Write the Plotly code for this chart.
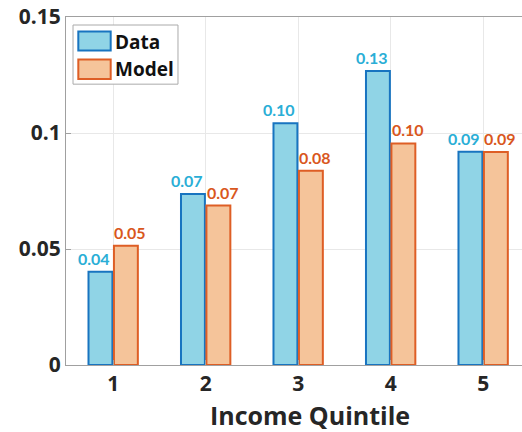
import plotly.graph_objects as go

quintiles = [1, 2, 3, 4, 5]
data_vals = [0.0402, 0.0737, 0.1042, 0.1267, 0.0919]
model_vals = [0.0514, 0.0687, 0.0837, 0.0955, 0.0918]
y_ticks = [0, 0.05, 0.1, 0.15]
y_tick_labels = ["0", "0.05", "0.1", "0.15"]
series_names = ["Data", "Model"]
x_title = "Income Quintile"

FONT = "Open Sans"
LABEL_FONT = "Lato"
DATA_FILL, DATA_EDGE, DATA_TXT = "#90d4e6", "#1874c0", "#2aaed6"
MODEL_FILL, MODEL_EDGE, MODEL_TXT = "#f5c49a", "#de5e25", "#d9571d"

fig = go.Figure()
fig.add_trace(go.Bar(
    x=quintiles, y=data_vals, name=series_names[0],
    marker=dict(color=DATA_FILL, line=dict(color=DATA_EDGE, width=2)),
))
fig.add_trace(go.Bar(
    x=quintiles, y=model_vals, name=series_names[1],
    marker=dict(color=MODEL_FILL, line=dict(color=MODEL_EDGE, width=2)),
))

annotations = []
# value labels above bars (anchored at data coordinates, nudged outward)
for q, v in zip(quintiles, data_vals):
    annotations.append(dict(xref="x", yref="y", x=q, y=v, xshift=-19, yshift=2,
                            xanchor="center", yanchor="bottom", showarrow=False,
                            text="<b>%.2f</b>" % v,
                            font=dict(size=16, color=DATA_TXT, family=LABEL_FONT)))
for q, v in zip(quintiles, model_vals):
    annotations.append(dict(xref="x", yref="y", x=q, y=v, xshift=17, yshift=2,
                            xanchor="center", yanchor="bottom", showarrow=False,
                            text="<b>%.2f</b>" % v,
                            font=dict(size=16, color=MODEL_TXT, family=LABEL_FONT)))

# hand-drawn legend box (paper coordinates of the plot area)
shapes = [
    dict(type="rect", xref="paper", yref="paper", x0=0.0154, x1=0.2456, y0=0.807, y1=0.977,
         fillcolor="white", line=dict(color="#aaaaaa", width=1), layer="above"),
    dict(type="rect", xref="paper", yref="paper", x0=0.027, x1=0.098, y0=0.904, y1=0.958,
         fillcolor=DATA_FILL, line=dict(color=DATA_EDGE, width=2), layer="above"),
    dict(type="rect", xref="paper", yref="paper", x0=0.027, x1=0.098, y0=0.822, y1=0.878,
         fillcolor=MODEL_FILL, line=dict(color=MODEL_EDGE, width=2), layer="above"),
]
annotations += [
    dict(xref="paper", yref="paper", x=0.102, y=0.929, xanchor="left", yanchor="middle",
         text="<b>%s</b>" % series_names[0], showarrow=False,
         font=dict(size=19, color="#111111", family=FONT)),
    dict(xref="paper", yref="paper", x=0.102, y=0.852, xanchor="left", yanchor="middle",
         text="<b>%s</b>" % series_names[1], showarrow=False,
         font=dict(size=19, color="#111111", family=FONT)),
    dict(xref="paper", yref="paper", x=0.535, y=-0.145, xanchor="center", yanchor="middle",
         text="<b>%s</b>" % x_title, showarrow=False,
         font=dict(size=25, color="#262626", family=FONT)),
]

fig.update_layout(
    width=522, height=432,
    margin=dict(l=66, r=0, t=17, b=67, autoexpand=False),
    paper_bgcolor="white", plot_bgcolor="white",
    barmode="group", bargap=0.45, bargroupgap=0.06,
    font=dict(family=FONT, color="#262626"),
    showlegend=False,
    shapes=shapes, annotations=annotations,
)
fig.update_xaxes(
    range=[0.49, 5.42], tickvals=quintiles,
    ticktext=["<b>%d</b>" % q for q in quintiles],
    tickfont=dict(size=21, color="#262626"),
    automargin=False,
    showgrid=True, gridcolor="#e8e8e8", gridwidth=1,
    showline=True, linecolor="#a0a0a0", linewidth=1, mirror=True,
    ticks="inside", ticklen=5, tickcolor="#a0a0a0", zeroline=False,
)
fig.update_yaxes(
    range=[0, 0.15], tickvals=y_ticks,
    ticktext=["<b>%s</b>" % t for t in y_tick_labels],
    tickfont=dict(size=21, color="#262626"),
    automargin=False,
    showgrid=True, gridcolor="#e8e8e8", gridwidth=1,
    showline=True, linecolor="#a0a0a0", linewidth=1, mirror=False,
    ticks="inside", ticklen=5, tickcolor="#a0a0a0", zeroline=False,
)

fig.write_html("out.html", config={"displayModeBar": False},
               post_script="document.body.style.margin='0';")
